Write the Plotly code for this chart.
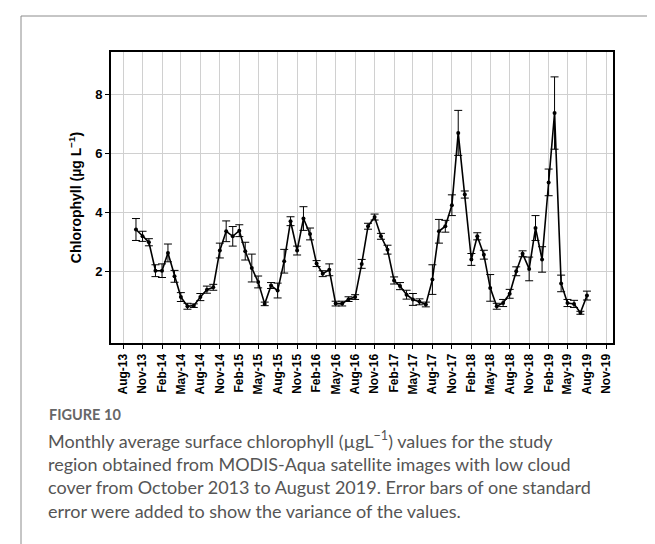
import plotly.graph_objects as go
import pandas as pd

# Monthly dates Oct-2013 .. Aug-2019
months = pd.date_range("2013-10-01", "2019-08-01", freq="MS")

chl = [3.43, 3.20, 3.00, 2.04, 2.04, 2.64, 1.85, 1.15, 0.84, 0.86,
       1.15, 1.40, 1.48, 2.72, 3.37, 3.20, 3.39, 2.70, 2.13, 1.66,
       0.92, 1.54, 1.37, 2.36, 3.71, 2.72, 3.80, 3.28, 2.28, 1.94,
       2.07, 0.93, 0.93, 1.08, 1.15, 2.27, 3.54, 3.85, 3.20, 2.75,
       1.71, 1.52, 1.23, 1.07, 0.99, 0.90, 1.74, 3.37, 3.54, 4.25,
       6.69, 4.61, 2.42, 3.20, 2.58, 1.46, 0.84, 0.95, 1.26, 2.02,
       2.61, 2.10, 3.48, 2.42, 5.02, 7.36, 1.61, 0.95, 0.92, 0.62,
       1.20]

stderr = [0.37, 0.17, 0.12, 0.20, 0.23, 0.30, 0.20, 0.15, 0.10, 0.06,
          0.12, 0.12, 0.10, 0.25, 0.35, 0.33, 0.20, 0.30, 0.47, 0.20,
          0.06, 0.10, 0.25, 0.40, 0.15, 0.15, 0.40, 0.20, 0.10, 0.10,
          0.20, 0.08, 0.08, 0.08, 0.08, 0.15, 0.10, 0.10, 0.10, 0.15,
          0.12, 0.12, 0.15, 0.20, 0.10, 0.08, 0.50, 0.40, 0.20, 0.35,
          0.76, 0.12, 0.20, 0.12, 0.15, 0.45, 0.10, 0.12, 0.15, 0.15,
          0.10, 0.40, 0.42, 0.43, 0.45, 1.22, 0.28, 0.12, 0.12, 0.05,
          0.15]

tick_dates = ["2013-08-01", "2013-11-01", "2014-02-01", "2014-05-01", "2014-08-01",
              "2014-11-01", "2015-02-01", "2015-05-01", "2015-08-01", "2015-11-01",
              "2016-02-01", "2016-05-01", "2016-08-01", "2016-11-01", "2017-02-01",
              "2017-05-01", "2017-08-01", "2017-11-01", "2018-02-01", "2018-05-01",
              "2018-08-01", "2018-11-01", "2019-02-01", "2019-05-01", "2019-08-01",
              "2019-11-01"]
tick_labels = ["Aug-13", "Nov-13", "Feb-14", "May-14", "Aug-14", "Nov-14", "Feb-15",
               "May-15", "Aug-15", "Nov-15", "Feb-16", "May-16", "Aug-16", "Nov-16",
               "Feb-17", "May-17", "Aug-17", "Nov-17", "Feb-18", "May-18", "Aug-18",
               "Nov-18", "Feb-19", "May-19", "Aug-19", "Nov-19"]

y_ticks = [2, 4, 6, 8]

caption_title = "FIGURE 10"
caption_lines = [
    "Monthly average surface chlorophyll (µgL<sup>−1</sup>) values for the study",
    "region obtained from MODIS-Aqua satellite images with low cloud",
    "cover from October 2013 to August 2019. Error bars of one standard",
    "error were added to show the variance of the values.",
]

W, H = 655, 544
L, R, T, B = 103, 605, 44, 335

def px(x):
    return (x - L) / (R - L)

def py(y):
    return (B - y) / (B - T)

fig = go.Figure()
fig.add_trace(go.Scatter(
    x=months, y=chl, mode="lines+markers",
    line=dict(color="black", width=1.6),
    marker=dict(size=4, color="black"),
    error_y=dict(type="data", array=stderr, color="black", thickness=1, width=4),
    showlegend=False,
))

fig.update_layout(
    width=W, height=H,
    margin=dict(l=L, r=W - R, t=T, b=H - B, pad=0),
    paper_bgcolor="white", plot_bgcolor="white",
    font=dict(family="Liberation Sans, Arial, sans-serif", color="black"),
)
fig.update_xaxes(
    type="date", range=["2013-06-05", "2019-12-02"],
    tickmode="array", tickvals=tick_dates, ticktext=tick_labels,
    tickangle=-90, tickfont=dict(size=12, weight="bold", color="black"),
    showgrid=True, gridcolor="#d0d0d0", gridwidth=1,
    showline=True, linecolor="black", linewidth=2, mirror=True,
    ticks="outside", ticklen=4, tickcolor="black", tickwidth=1,
    zeroline=False,
)
fig.update_yaxes(
    range=[-0.4, 9.42], tickmode="array", tickvals=y_ticks,
    tickfont=dict(size=13, weight="bold", color="black"),
    title=dict(text="Chlorophyll (µg L<sup>−1</sup>)", font=dict(size=14, weight="bold"), standoff=10),
    showgrid=True, gridcolor="#d0d0d0", gridwidth=1,
    showline=True, linecolor="black", linewidth=2, mirror=True,
    ticks="outside", ticklen=4, tickcolor="black", tickwidth=1,
    zeroline=False,
)

# outer figure frame
fig.add_shape(type="rect", xref="paper", yref="paper",
              x0=px(13), x1=px(660), y0=py(560), y1=py(8),
              line=dict(color="#8c8c8c", width=1), layer="below")

fig.add_annotation(xref="paper", yref="paper", x=px(39), y=py(406),
                   xanchor="left", yanchor="middle", showarrow=False,
                   text=caption_title,
                   font=dict(family="Lato, sans-serif", size=14.5, color="#666666", weight="bold"))
for i, line in enumerate(caption_lines):
    fig.add_annotation(xref="paper", yref="paper", x=px(38), y=py(432 + 23.5 * i),
                       xanchor="left", yanchor="middle", showarrow=False,
                       text=line,
                       font=dict(family="Lato, sans-serif", size=18, color="#555555"))

fig.write_html("out.html")
